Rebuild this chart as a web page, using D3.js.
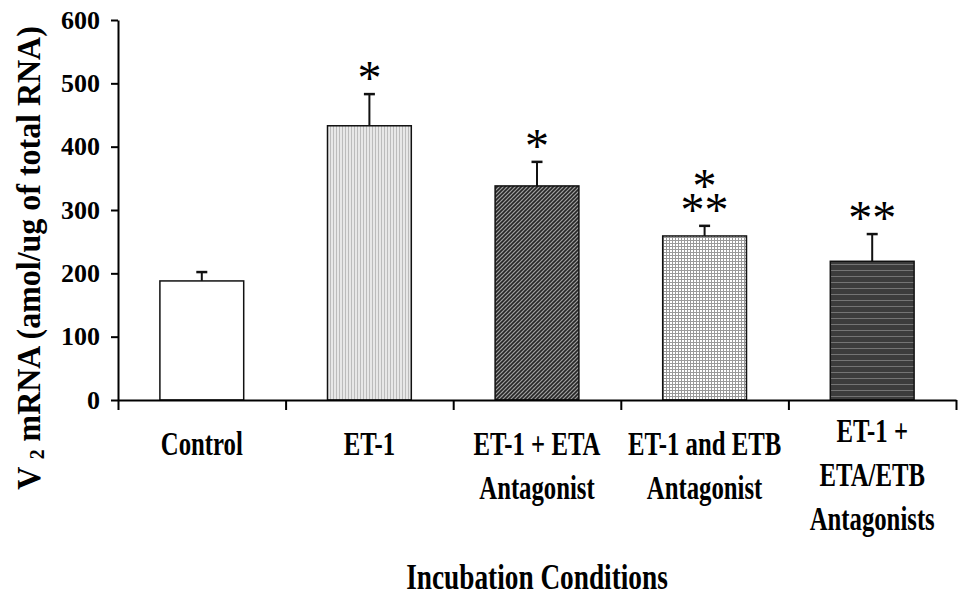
<!DOCTYPE html>
<html>
<head>
<meta charset="utf-8">
<script src="https://cdn.jsdelivr.net/npm/d3@7"></script>
<style>
  body { margin: 0; background: #fff; }
  svg { display: block; }
  text { font-family: "Liberation Serif", "Times New Roman", serif; font-weight: bold; fill: #000; }
</style>
</head>
<body>
<svg id="chart" width="958" height="598"></svg>
<script>
// Données
const categories = ["Control", "ET-1", "ET-1 + ETA Antagonist", "ET-1 and ETB Antagonist", "ET-1 + ETA/ETB Antagonists"];
const labelLines = [["Control"], ["ET-1"], ["ET-1 + ETA", "Antagonist"], ["ET-1 and ETB", "Antagonist"], ["ET-1 +", "ETA/ETB", "Antagonists"]];
const means = [188, 433, 338, 259, 219];
const errors = [14, 50, 38, 16, 43];
const stars = [[], ["*"], ["*"], ["*", "**"], ["**"]];
const yTicks = [0, 100, 200, 300, 400, 500, 600];
const fills = ["#fff", "url(#pat-vert)", "url(#pat-diag)", "url(#pat-grid)", "url(#pat-horiz)"];

const svg = d3.select("#chart");
const margin = {top: 20, right: 2, bottom: 198, left: 118};
const W = 958, H = 598;

const x = d3.scaleBand()
    .domain(categories)
    .range([margin.left, W - margin.right])
    .paddingInner(0.5)
    .paddingOuter(0.25);

const xEdges = d3.scaleLinear()
    .domain([0, categories.length])
    .range([margin.left, W - margin.right]);

const y = d3.scaleLinear()
    .domain([0, 600])
    .range([H - margin.bottom, margin.top]);

// --- motifs de remplissage ---
const defs = svg.append("defs");

const pv = defs.append("pattern").attr("id", "pat-vert")
    .attr("patternUnits", "userSpaceOnUse").attr("width", 3).attr("height", 3);
pv.append("rect").attr("width", 3).attr("height", 3).attr("fill", "#e8e8e8");
pv.append("rect").attr("width", 1).attr("height", 3).attr("fill", "#bcbcbc");

const pd = defs.append("pattern").attr("id", "pat-diag")
    .attr("patternUnits", "userSpaceOnUse").attr("width", 4).attr("height", 4);
pd.append("rect").attr("width", 4).attr("height", 4).attr("fill", "#a0a0a0");
pd.append("path").attr("d", "M-1,1 l2,-2 M0,4 l4,-4 M3,5 l2,-2")
    .attr("stroke", "#262626").attr("stroke-width", 1.6);

const pg = defs.append("pattern").attr("id", "pat-grid")
    .attr("patternUnits", "userSpaceOnUse").attr("width", 3).attr("height", 3);
pg.append("rect").attr("width", 3).attr("height", 3).attr("fill", "#fff");
pg.append("rect").attr("width", 3).attr("height", 1).attr("fill", "#999");
pg.append("rect").attr("width", 1).attr("height", 3).attr("fill", "#999");

const ph = defs.append("pattern").attr("id", "pat-horiz")
    .attr("patternUnits", "userSpaceOnUse").attr("width", 4).attr("height", 6);
ph.append("rect").attr("width", 4).attr("height", 6).attr("fill", "#3c3c3c");
ph.append("rect").attr("width", 4).attr("height", 1).attr("fill", "#747474");

// --- barres ---
svg.append("g").selectAll("rect")
    .data(categories)
    .join("rect")
    .attr("x", d => x(d))
    .attr("y", (d, i) => y(means[i]))
    .attr("width", x.bandwidth())
    .attr("height", (d, i) => y(0) - y(means[i]))
    .attr("fill", (d, i) => fills[i])
    .attr("stroke", "#111")
    .attr("stroke-width", 1.5);

// --- barres d'erreur (haut seulement) ---
const eb = svg.append("g").attr("stroke", "#111");
categories.forEach((c, i) => {
    const cx = x(c) + x.bandwidth() / 2;
    eb.append("line")
        .attr("x1", cx).attr("x2", cx)
        .attr("y1", y(means[i])).attr("y2", y(means[i] + errors[i]))
        .attr("stroke-width", 2);
    eb.append("line")
        .attr("x1", cx - 5.5).attr("x2", cx + 5.5)
        .attr("y1", y(means[i] + errors[i])).attr("y2", y(means[i] + errors[i]))
        .attr("stroke-width", 2.5);
});

// --- astérisques (un seul texte par barre) ---
const st = svg.append("g").attr("text-anchor", "middle");
categories.forEach((c, i) => {
    const n = stars[i].length;
    if (!n) return;
    const cx = x(c) + x.bandwidth() / 2;
    const top = y(means[i] + errors[i]);
    const t = st.append("text")
        .style("font-size", "48px")
        .style("font-weight", "normal");
    stars[i].forEach((s, k) => {
        const cy = top - 22 - (n - 1 - k) * 24;
        t.append("tspan")
            .attr("x", cx)
            .attr("y", cy + 22)
            .text(s);
    });
});

// --- axe Y ---
const yAxis = svg.append("g")
    .attr("transform", `translate(${margin.left},0)`)
    .call(d3.axisLeft(y).tickValues(yTicks).tickSize(7).tickSizeOuter(0).tickPadding(11));
yAxis.select(".domain").attr("stroke", "#000").attr("stroke-width", 2);
yAxis.selectAll(".tick line").attr("stroke", "#000").attr("stroke-width", 2);
yAxis.selectAll(".tick text")
    .style("font-family", "'Liberation Serif', serif")
    .style("font-weight", "bold")
    .style("font-size", "26px");

// --- axe X ---
const xAxis = svg.append("g")
    .attr("transform", `translate(0,${y(0)})`)
    .call(d3.axisBottom(xEdges).tickValues(d3.range(0, categories.length + 1)).tickSize(10).tickSizeOuter(0).tickFormat(""));
xAxis.select(".domain").attr("stroke", "#000").attr("stroke-width", 2);
xAxis.selectAll(".tick line").attr("stroke", "#000").attr("stroke-width", 2);

// --- étiquettes des catégories ---
const lab = svg.append("g").attr("text-anchor", "middle").style("font-size", "33px");
categories.forEach((c, i) => {
    const cx = x(c) + x.bandwidth() / 2;
    const lines = labelLines[i];
    const y0 = 455 - (lines.length > 2 ? 13 : 0);
    lines.forEach((l, k) => {
        lab.append("text")
            .attr("transform", `translate(${cx},${y0 + k * 44}) scale(0.75,1)`)
            .text(l);
    });
});

// --- titres des axes ---
svg.append("text")
    .attr("text-anchor", "middle")
    .attr("transform", `translate(${(margin.left + W - margin.right) / 2},589) scale(0.78,1)`)
    .style("font-size", "35px")
    .text("Incubation Conditions");

const yt = svg.append("text")
    .attr("text-anchor", "middle")
    .attr("transform", "translate(40,258) rotate(-90) scale(0.94,1)")
    .style("font-size", "34px");
yt.append("tspan").text("V ");
yt.append("tspan").attr("dy", 4).style("font-size", "21px").text("2");
yt.append("tspan").attr("dy", -4).text(" mRNA (amol/ug of total RNA)");
</script>
</body>
</html>
